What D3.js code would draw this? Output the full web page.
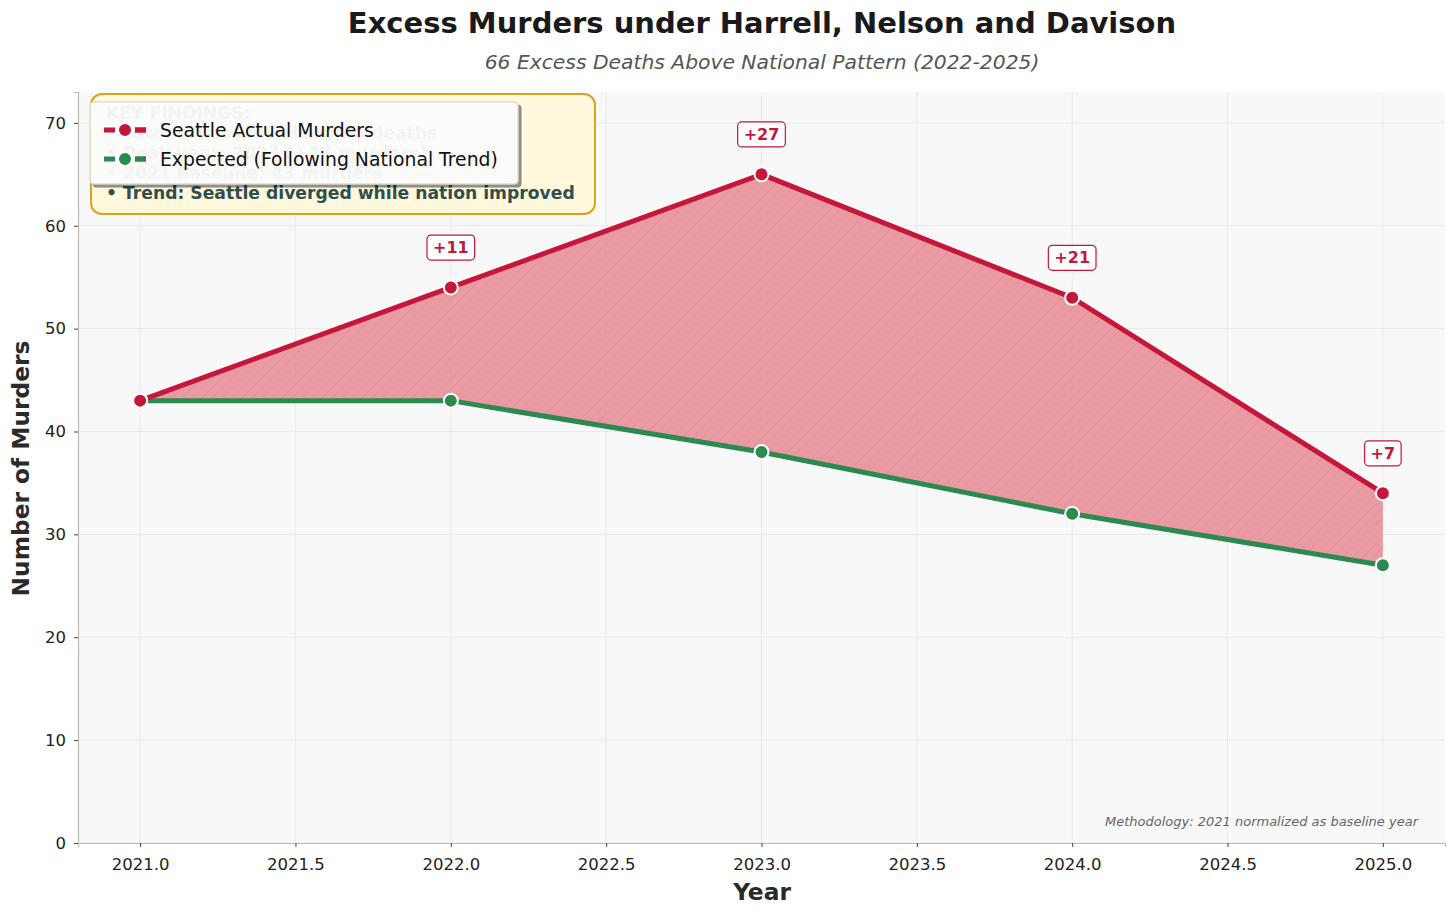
<!DOCTYPE html>
<html>
<head>
<meta charset="utf-8">
<script src="https://cdn.jsdelivr.net/npm/d3@7"></script>
<style>
body { margin: 0; background: #fff; font-family: "DejaVu Sans", sans-serif; }
</style>
</head>
<body>
<div id="chart"></div>
<script>
const years = [2021, 2022, 2023, 2024, 2025];
const actual = [43, 54, 65, 53, 34];
const expected = [43, 43, 38, 32, 27];
const excessLabels = ["", "+11", "+27", "+21", "+7"];
const xTicks = [2021, 2021.5, 2022, 2022.5, 2023, 2023.5, 2024, 2024.5, 2025];
const yTicks = [0, 10, 20, 30, 40, 50, 60, 70];
const findings = [
	"KEY FINDINGS:",
	"• Total excess murders: 66 deaths",
	"• Peak year: 2023 (+27 murders)",
	"• 2021 baseline: 43 murders",
	"• Trend: Seattle diverged while nation improved"
];

const width = 1456;
const height = 916;
const margin = { top: 92, right: 11, bottom: 73, left: 78 };
const red = "#c4173a";
const green = "#2a8a4f";

const svg = d3.select("#chart").append("svg").attr("width", width).attr("height", height);

const x = d3.scaleLinear().domain([2020.8, 2025.2]).range([margin.left, width - margin.right]);
const y = d3.scaleLinear().domain([0, 73]).range([height - margin.bottom, margin.top]);

const defs = svg.append("defs");
const hatch = defs.append("pattern").attr("id", "hatch").attr("patternUnits", "userSpaceOnUse")
	.attr("width", 10).attr("height", 10);
hatch.append("rect").attr("width", 10).attr("height", 10).attr("fill", "#e8959d");
hatch.append("path").attr("d", "M-1,11 L11,-1 M-6,6 L6,-6 M4,16 L16,4")
	.attr("stroke", "#e07a86").attr("stroke-width", 0.8).attr("opacity", 0.6);
const shadow = defs.append("filter").attr("id", "shadow").attr("x", "-10%").attr("y", "-10%").attr("width", "130%").attr("height", "140%");
shadow.append("feDropShadow").attr("dx", 3).attr("dy", 3).attr("stdDeviation", 0.6).attr("flood-color", "#000").attr("flood-opacity", 0.45);

// plot background
svg.append("rect")
	.attr("x", margin.left).attr("y", margin.top)
	.attr("width", width - margin.left - margin.right)
	.attr("height", height - margin.top - margin.bottom)
	.attr("fill", "#f8f8f8");

// grid
svg.append("g").selectAll("line").data(xTicks).join("line")
	.attr("x1", (d) => x(d)).attr("x2", (d) => x(d))
	.attr("y1", margin.top).attr("y2", height - margin.bottom)
	.attr("stroke", "#e6e6e6").attr("stroke-width", 0.8);
svg.append("g").selectAll("line").data(yTicks).join("line")
	.attr("x1", margin.left).attr("x2", width - margin.right)
	.attr("y1", (d) => y(d)).attr("y2", (d) => y(d))
	.attr("stroke", "#e6e6e6").attr("stroke-width", 0.8);

// findings box (sits behind the legend, as in the original)
const fb = svg.append("g");
fb.append("rect").attr("x", 91).attr("y", 94).attr("width", 504).attr("height", 120)
	.attr("rx", 11).attr("fill", "#fff8dc").attr("stroke", "#d9a31e").attr("stroke-width", 2);
fb.selectAll("text").data(findings).join("text")
	.attr("x", 106).attr("y", (d, i) => 119 + i * 20)
	.attr("font-size", 17.2).attr("font-weight", "bold").attr("fill", "#2f4f4f")
	.text((d) => d);

// area between
const pts = years.map((yr, i) => ({ yr, a: actual[i], e: expected[i] }));
svg.append("path").datum(pts)
	.attr("fill", "url(#hatch)").attr("fill-opacity", 0.95)
	.attr("d", d3.area().x((d) => x(d.yr)).y0((d) => y(d.e)).y1((d) => y(d.a)));

const line = (key) => d3.line().x((d) => x(d.yr)).y((d) => y(d[key]));
svg.append("path").datum(pts).attr("fill", "none").attr("stroke", green).attr("stroke-width", 5).attr("d", line("e"));
svg.append("path").datum(pts).attr("fill", "none").attr("stroke", red).attr("stroke-width", 5).attr("d", line("a"));

svg.append("g").selectAll("circle").data(pts).join("circle")
	.attr("cx", (d) => x(d.yr)).attr("cy", (d) => y(d.e)).attr("r", 7)
	.attr("fill", green).attr("stroke", "#fff").attr("stroke-width", 2);
svg.append("g").selectAll("circle").data(pts).join("circle")
	.attr("cx", (d) => x(d.yr)).attr("cy", (d) => y(d.a)).attr("r", 7)
	.attr("fill", red).attr("stroke", "#fff").attr("stroke-width", 2);

// excess labels
const ann = svg.append("g").selectAll("g").data(pts.filter((d, i) => excessLabels[i]))
	.join("g").attr("transform", (d) => `translate(${x(d.yr)},${y(d.a) - 40})`);
ann.append("text").attr("text-anchor", "middle").attr("dy", "0.35em")
	.attr("font-size", 16).attr("font-weight", "bold").attr("fill", red)
	.text((d) => excessLabels[years.indexOf(d.yr)]);
ann.each(function () {
	const g = d3.select(this);
	const bb = g.select("text").node().getBBox();
	g.insert("rect", "text").attr("x", bb.x - 6).attr("y", bb.y - 3)
		.attr("width", bb.width + 12).attr("height", bb.height + 6).attr("rx", 4)
		.attr("fill", "#fff").attr("stroke", red).attr("stroke-width", 1.2);
});

// axes
const xAxis = svg.append("g").attr("transform", `translate(0,${height - margin.bottom})`)
	.call(d3.axisBottom(x).tickValues(xTicks).tickFormat(d3.format(".1f")).tickSizeOuter(0).tickSize(4));
const yAxis = svg.append("g").attr("transform", `translate(${margin.left},0)`)
	.call(d3.axisLeft(y).tickValues(yTicks).tickSizeOuter(0).tickSize(4));
[xAxis, yAxis].forEach((a) => {
	a.select(".domain").attr("stroke", "#bbb").attr("stroke-width", 1.2);
	a.selectAll(".tick line").attr("stroke", "#444");
	a.selectAll(".tick text").attr("font-size", 16.5).attr("fill", "#222").attr("font-family", "DejaVu Sans");
});
xAxis.selectAll(".tick text").attr("dy", "1.2em");
yAxis.selectAll(".tick text").attr("dx", "-0.3em");

// legend
const lg = svg.append("g").attr("transform", "translate(90,102)");
lg.append("rect").attr("width", 428).attr("height", 82).attr("rx", 3)
	.attr("fill", "#fff").attr("fill-opacity", 0.92).attr("stroke", "#ccc").attr("filter", "url(#shadow)");
const legendItems = [["Seattle Actual Murders", red], ["Expected (Following National Trend)", green]];
legendItems.forEach(([label, c], i) => {
	const yy = 28 + i * 29;
	lg.append("line").attr("x1", 14).attr("x2", 56).attr("y1", yy).attr("y2", yy)
		.attr("stroke", c).attr("stroke-width", 5).attr("stroke-dasharray", "11,20");
	lg.append("line").attr("x1", 14).attr("x2", 56).attr("y1", yy).attr("y2", yy)
		.attr("stroke", c).attr("stroke-width", 5).attr("stroke-dasharray", "0,31,11");
	lg.append("circle").attr("cx", 35).attr("cy", yy).attr("r", 7).attr("fill", c).attr("stroke", "#fff").attr("stroke-width", 2);
	lg.append("text").attr("x", 70).attr("y", yy).attr("dy", "0.35em").attr("font-size", 18.8).attr("fill", "#111").text(label);
});

// titles
svg.append("text").attr("x", 762).attr("y", 33).attr("text-anchor", "middle")
	.attr("font-size", 29).attr("font-weight", "bold").attr("fill", "#1a1a1a")
	.text("Excess Murders under Harrell, Nelson and Davison");
svg.append("text").attr("x", 762).attr("y", 69).attr("text-anchor", "middle")
	.attr("font-size", 20.3).attr("font-style", "italic").attr("fill", "#555")
	.text("66 Excess Deaths Above National Pattern (2022-2025)");
svg.append("text").attr("x", 762).attr("y", 900).attr("text-anchor", "middle")
	.attr("font-size", 23.3).attr("font-weight", "bold").attr("fill", "#2a2a2a").text("Year");
svg.append("text").attr("transform", `translate(29,${(margin.top + height - margin.bottom) / 2 + 1}) rotate(-90)`)
	.attr("text-anchor", "middle").attr("font-size", 23.3).attr("font-weight", "bold").attr("fill", "#2a2a2a")
	.text("Number of Murders");
svg.append("text").attr("x", 1418).attr("y", 826).attr("text-anchor", "end")
	.attr("font-size", 13).attr("font-style", "italic").attr("fill", "#666")
	.text("Methodology: 2021 normalized as baseline year");
</script>
</body>
</html>
